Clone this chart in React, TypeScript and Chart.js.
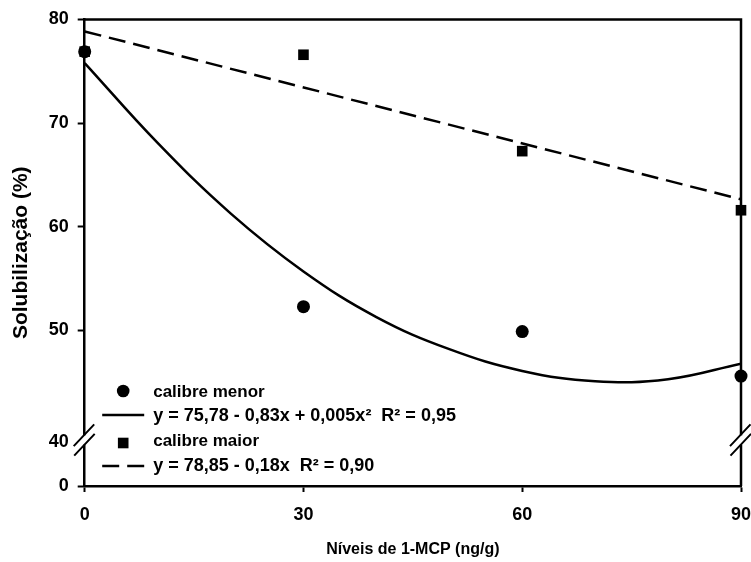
import React, { useEffect, useRef } from "react";
import { Chart, registerables } from "chart.js";

Chart.register(...registerables);

// ---- data ----
const xLevels = [0, 30, 60, 90];
const menorValues = [76.9, 52.3, 49.9, 45.6];
const maiorValues = [76.9, 76.6, 67.3, 61.6];
const menorFitX = [0, 10, 20, 30, 40, 50, 60, 70, 80, 90];
const menorFitY = [75.8, 68.1, 61.3, 55.7, 51.3, 48.2, 46.1, 45.1, 45.3, 46.8];
const maiorFitX = [0, 90];
const maiorFitY = [78.85, 62.65];
const xTickValues = [0, 30, 60, 90];
const yTickValues = [35, 39.2, 50, 60, 70, 80];
const yTickLabels = ["0", "40", "50", "60", "70", "80"];
const legendLabels = [
  "calibre menor",
  "y = 75,78 - 0,83x + 0,005x\u00B2  R\u00B2 = 0,95",
  "calibre maior",
  "y = 78,85 - 0,18x  R\u00B2 = 0,90",
];
const xTitle = "Níveis de 1-MCP (ng/g)";
const yTitle = "Solubilização (%)";

const FONT = "'Liberation Sans', Arial, sans-serif";
const BREAK_AT = 39.45;

export default function App() {
  const ref = useRef<HTMLCanvasElement>(null);

  useEffect(() => {
    const canvas = ref.current!;
    const pts = (xs: number[], ys: number[]) => xs.map((x, i) => ({ x, y: ys[i] }));

    const framePlugin = {
      id: "frameAndLegend",
      beforeDatasetsDraw(chart: any) {
        const { ctx, chartArea: a } = chart;
        ctx.save();
        ctx.strokeStyle = "#000";
        ctx.lineWidth = 2.5;
        ctx.beginPath();
        ctx.moveTo(a.left - 1, a.top);
        ctx.lineTo(a.right, a.top);
        ctx.lineTo(a.right, a.bottom);
        ctx.stroke();
        ctx.restore();
      },
      afterDraw(chart: any) {
        const { ctx, chartArea: a, scales } = chart;
        const yc = scales.y.getPixelForValue(BREAK_AT);
        ctx.save();
        // axis breaks
        for (const x0 of [a.left, a.right]) {
          ctx.fillStyle = "#fff";
          ctx.fillRect(x0 - 3, yc - 4.5, 6, 9.3);
          ctx.strokeStyle = "#000";
          ctx.lineWidth = 2;
          ctx.beginPath();
          ctx.moveTo(x0 - 11, yc + 6.2);
          ctx.lineTo(x0 + 9.5, yc - 15.5);
          ctx.moveTo(x0 - 10.5, yc + 15.8);
          ctx.lineTo(x0 + 10, yc - 6);
          ctx.stroke();
        }
        // legend
        const mx = a.left + 38.5;
        const tx = a.left + 68.5;
        const rows = [a.bottom - 95, a.bottom - 71, a.bottom - 43, a.bottom - 20];
        const textDy = [1, 1, -2, 0];
        ctx.fillStyle = "#000";
        ctx.strokeStyle = "#000";
        ctx.beginPath();
        ctx.arc(mx, rows[0], 6.3, 0, Math.PI * 2);
        ctx.fill();
        ctx.lineWidth = 2.5;
        ctx.setLineDash([]);
        ctx.beginPath();
        ctx.moveTo(mx - 21, rows[1]);
        ctx.lineTo(mx + 21, rows[1]);
        ctx.stroke();
        ctx.fillRect(mx - 5.3, rows[2] - 5.3, 10.6, 10.6);
        ctx.setLineDash([17, 8]);
        ctx.beginPath();
        ctx.moveTo(mx - 21, rows[3]);
        ctx.lineTo(mx + 21, rows[3]);
        ctx.stroke();
        ctx.setLineDash([]);
        ctx.textBaseline = "middle";
        ctx.textAlign = "left";
        legendLabels.forEach((t, i) => {
          ctx.font = `bold ${i % 2 === 0 ? 17 : 18}px ${FONT}`;
          ctx.fillText(t, tx, rows[i] + textDy[i]);
        });
        ctx.restore();
      },
    };

    const chart = new Chart(canvas, {
      type: "scatter",
      data: {
        datasets: [
          {
            label: legendLabels[0],
            data: pts(xLevels, menorValues),
            pointStyle: "circle",
            pointRadius: 6.5,
            backgroundColor: "#000",
            borderColor: "#000",
            borderWidth: 0,
            showLine: false,
            clip: false as any,
            order: 0,
          },
          {
            label: legendLabels[2],
            data: pts(xLevels, maiorValues),
            pointStyle: "rect",
            pointRadius: 7.5,
            backgroundColor: "#000",
            borderColor: "#000",
            borderWidth: 0,
            showLine: false,
            clip: false as any,
            order: 1,
          },
          {
            type: "line",
            label: legendLabels[1],
            data: pts(menorFitX, menorFitY),
            borderColor: "#000",
            borderWidth: 2.5,
            pointRadius: 0,
            tension: 0.4,
            fill: false,
            order: 2,
          },
          {
            type: "line",
            label: legendLabels[3],
            data: pts(maiorFitX, maiorFitY),
            borderColor: "#000",
            borderWidth: 2.5,
            borderDash: [17, 8],
            pointRadius: 0,
            tension: 0,
            fill: false,
            order: 3,
          },
        ] as any,
      },
      options: {
        animation: false,
        responsive: false,
        layout: { padding: { top: 19.5, right: 10, bottom: 0, left: 0 } },
        plugins: { legend: { display: false }, tooltip: { enabled: false } },
        scales: {
          x: {
            type: "linear",
            min: 0,
            max: 90,
            afterBuildTicks: (s: any) => {
              s.ticks = xTickValues.map((v) => ({ value: v }));
            },
            afterFit: (s: any) => {
              s.height = 76;
              s.paddingLeft = 0;
              s.paddingRight = 0;
            },
            grid: { drawOnChartArea: false, drawTicks: true, tickLength: 6, tickWidth: 2, tickColor: "#000" },
            border: { display: true, color: "#000", width: 2.5 },
            ticks: {
              color: "#000",
              padding: 12,
              maxRotation: 0,
              autoSkip: false,
              font: { family: FONT, weight: "bold", size: 18 },
            },
            title: {
              display: true,
              text: xTitle,
              color: "#000",
              font: { family: FONT, weight: "bold", size: 16 },
              padding: { top: 0, bottom: 3 },
            },
          },
          y: {
            type: "linear",
            min: 35,
            max: 80,
            afterBuildTicks: (s: any) => {
              s.ticks = yTickValues.map((v) => ({ value: v }));
            },
            afterFit: (s: any) => {
              s.width = 84.7;
              s.paddingTop = 0;
              s.paddingBottom = 0;
            },
            grid: {
              drawOnChartArea: false,
              drawTicks: true,
              tickLength: 7,
              tickWidth: 2,
              tickColor: (c: any) => (c.tick && c.tick.value === yTickValues[1] ? "rgba(0,0,0,0)" : "#000"),
            },
            border: { display: true, color: "#000", width: 2.5 },
            ticks: {
              color: "#000",
              padding: 9,
              autoSkip: false,
              font: { family: FONT, weight: "bold", size: 18 },
              callback: (v: any) => {
                const i = yTickValues.indexOf(Number(v));
                return i >= 0 ? yTickLabels[i] : "";
              },
            },
            title: {
              display: true,
              text: yTitle,
              color: "#000",
              font: { family: FONT, weight: "bold", size: 21 },
              padding: { top: 8.4, bottom: 0 },
            },
          },
        },
      },
      plugins: [framePlugin],
    });
    return () => chart.destroy();
  }, []);

  return (
    <div style={{ position: "absolute", left: 0, top: 0, width: 751, height: 562, background: "#fff" }}>
      <canvas ref={ref} width={751} height={562} style={{ display: "block", width: 751, height: 562 }} />
    </div>
  );
}
